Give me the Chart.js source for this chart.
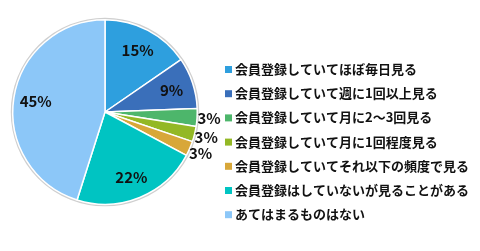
<!DOCTYPE html>
<html>
<head>
<meta charset="utf-8">
<script src="https://cdn.jsdelivr.net/npm/chart.js@4"></script>
<style>
  html, body { margin: 0; padding: 0; background: #fff; }
  #wrap { position: relative; width: 480px; height: 251px; }
</style>
</head>
<body>
<div id="wrap"><canvas id="chart"></canvas></div>
<script>
// カテゴリと値
const categories = [
  '会員登録していてほぼ毎日見る',
  '会員登録していて週に1回以上見る',
  '会員登録していて月に2〜3回見る',
  '会員登録していて月に1回程度見る',
  '会員登録していてそれ以下の頻度で見る',
  '会員登録はしていないが見ることがある',
  'あてはまるものはない'
];
const values = [15.4, 9.0, 3.1, 2.7, 2.6, 22.1, 45.1];
const valueLabels = ['15%', '9%', '3%', '3%', '3%', '22%', '45%'];
const colors = ['#2E9FDE', '#3A6FBA', '#4DB66B', '#93B825', '#D8A739', '#00C4C2', '#8CC7F8'];

const FONT = '"Noto Sans CJK JP", "Noto Sans", sans-serif';

// 外周の薄い影
const ringPlugin = {
  id: 'ring',
  beforeDatasetsDraw(chart) {
    const arc = chart.getDatasetMeta(0).data[0];
    const c = chart.ctx;
    c.save();
    c.beginPath();
    c.arc(arc.x, arc.y, arc.outerRadius + 1, 0, Math.PI * 2);
    c.strokeStyle = '#cfcfcf';
    c.lineWidth = 2;
    c.stroke();
    c.restore();
  }
};

// パーセント表示
const labelPlugin = {
  id: 'pctLabels',
  afterDatasetsDraw(chart) {
    const c = chart.ctx;
    const meta = chart.getDatasetMeta(0);
    c.save();
    c.font = 'bold 15px ' + FONT;
    c.fillStyle = '#111';
    c.textAlign = 'center';
    c.textBaseline = 'middle';
    meta.data.forEach((arc, i) => {
      const mid = (arc.startAngle + arc.endAngle) / 2;
      const small = values[i] < 5;
      const r = arc.outerRadius * (small ? 1.13 : 0.76);
      c.fillText(valueLabels[i], arc.x + Math.cos(mid) * r, arc.y + Math.sin(mid) * r);
    });
    c.restore();
  }
};

// 凡例
const legendPlugin = {
  id: 'sideLegend',
  afterDraw(chart) {
    const c = chart.ctx;
    c.save();
    c.font = 'bold 13px ' + FONT;
    c.textBaseline = 'middle';
    c.fillStyle = '#111';
    categories.forEach((name, i) => {
      const y = 69 + i * 24.2;
      c.fillStyle = colors[i];
      c.fillRect(225, y - 3, 7, 7);
      c.fillStyle = '#111';
      c.fillText(name, 235, y);
    });
    c.restore();
  }
};

new Chart(document.getElementById('chart'), {
  type: 'pie',
  data: {
    labels: categories,
    datasets: [{
      data: values,
      backgroundColor: colors,
      borderColor: '#ffffff',
      borderWidth: 1.5
    }]
  },
  options: {
    responsive: true,
    maintainAspectRatio: false,
    animation: false,
    layout: { padding: { left: 12, top: 19, right: 282, bottom: 46 } },
    plugins: {
      legend: { display: false },
      tooltip: { enabled: false }
    }
  },
  plugins: [ringPlugin, labelPlugin, legendPlugin]
});
</script>
</body>
</html>
